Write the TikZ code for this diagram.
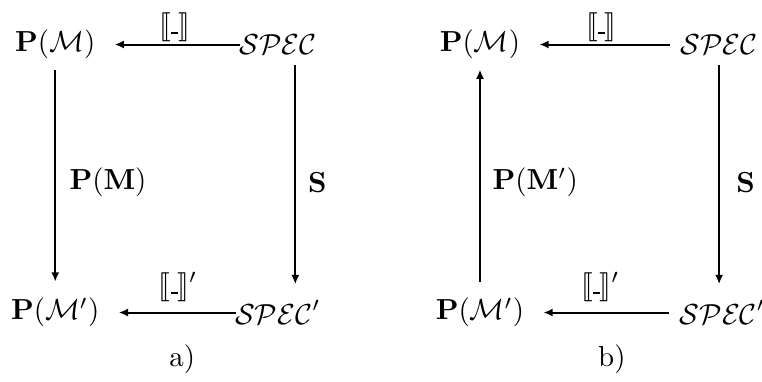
\documentclass[tikz,border=0pt]{standalone}
\usepackage{amsmath,amssymb}
\usepackage{stmaryrd}
\usepackage{tikz}
\usetikzlibrary{arrows.meta,positioning,calc}
\newcommand{\Sem}{\llbracket\mathord{\rule{2.4pt}{0.75pt}}\rrbracket}
\newcommand{\Spec}{\mathcal{SPEC}}

\begin{document}
\begin{tikzpicture}[>={Latex[length=3.2pt,width=2.8pt]},line width=0.7pt]
  \useasboundingbox (0,0) rectangle (9.24,4.62);
  % a) both squares commute downwards
  \node (pmA)    at (0.67,4.08) {$\mathbf{P}(\mathcal{M})$};
  \node (specA)  at (3.37,4.08) {$\Spec$};
  \node (pmpA)   at (0.67,0.83) {$\mathbf{P}(\mathcal{M}')$};
  \node (specpA) at (3.37,0.83) {$\Spec'$};
  \draw[->,shorten <=-4pt,shorten >=3pt] (specA.west) -- (pmA.east);
  \draw[->,shorten <=-4pt,shorten >=3pt] (specpA.west) -- (pmpA.east);
  \draw[->,shorten >=2pt] (pmA.south) -- (pmpA.north);
  \draw[->,shorten >=2pt] ([xshift=6pt]specA.south) -- ([xshift=6pt]specpA.north);
  \node (semA)   at (2.12,4.29) {$\Sem$};
  \node (sempA)  at (2.16,1.14) {$\Sem'$};
  \node (mapA)   at (1.31,2.41) {$\mathbf{P}(\mathbf{M})$};
  \node (sA)     at (3.85,2.41) {$\mathbf{S}$};
  \node (capA)   at (2.21,0.26) {a)};
  % b) left side goes back up
  \node (pmB)    at (5.82,4.08) {$\mathbf{P}(\mathcal{M})$};
  \node (specB)  at (8.72,4.08) {$\Spec$};
  \node (pmpB)   at (5.82,0.83) {$\mathbf{P}(\mathcal{M}')$};
  \node (specpB) at (8.76,0.83) {$\Spec'$};
  \draw[->,shorten >=3pt] (specB.west) -- (pmB.east);
  \draw[->,shorten >=3pt] (specpB.west) -- (pmpB.east);
  \draw[->,shorten <=2pt] (pmpB.north) -- (pmB.south);
  \draw[->,shorten >=2pt] (specB.south) -- (specB.south |- specpB.north);
  \node (semB)   at (7.29,4.29) {$\Sem$};
  \node (sempB)  at (7.28,1.14) {$\Sem'$};
  \node (mapB)   at (6.49,2.41) {$\mathbf{P}(\mathbf{M}')$};
  \node (sB)     at (9.04,2.41) {$\mathbf{S}$};
  \node (capB)   at (7.42,0.26) {b)};
\end{tikzpicture}
\end{document}
